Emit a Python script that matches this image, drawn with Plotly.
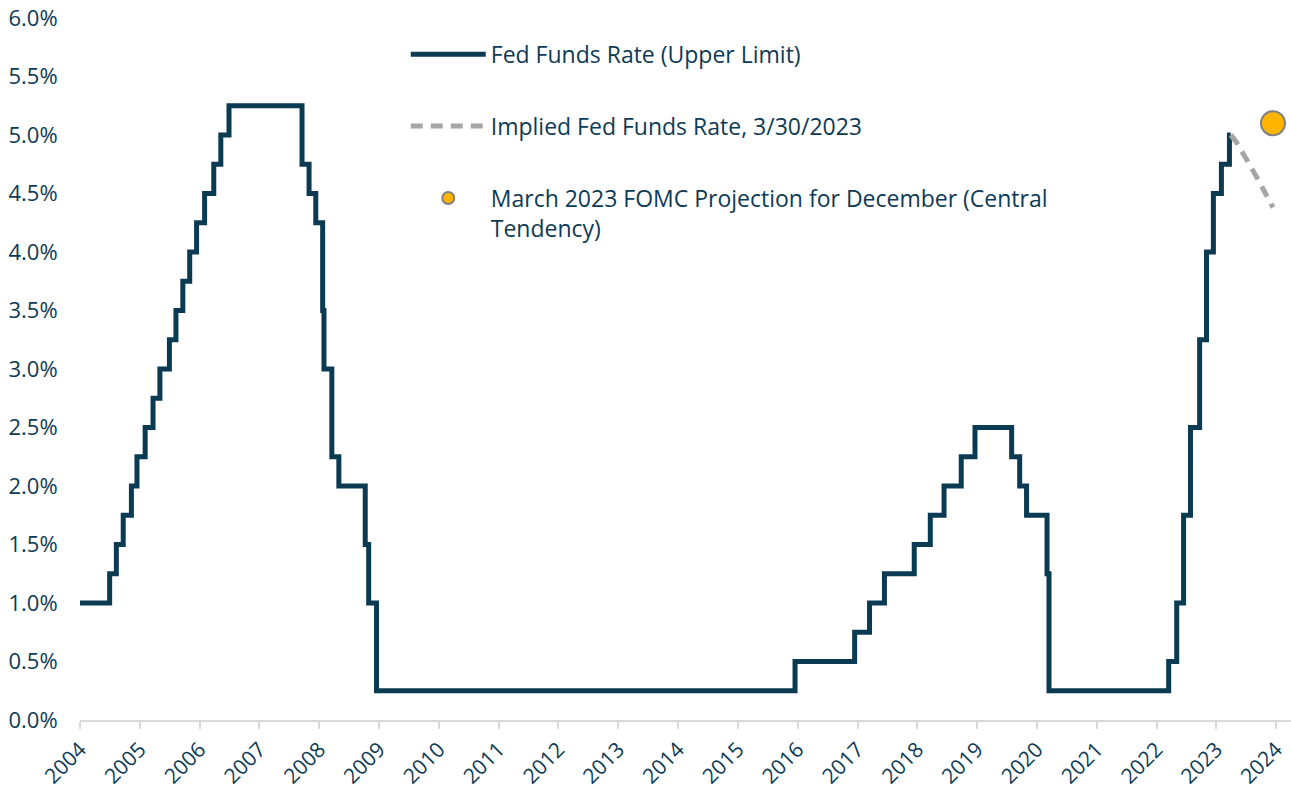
import plotly.graph_objects as go

# Fed funds target rate (upper limit), effective change dates
ffr_dates = [
    "2004-01-01", "2004-06-30", "2004-08-10", "2004-09-21", "2004-11-10", "2004-12-14",
    "2005-02-02", "2005-03-22", "2005-05-03", "2005-06-30", "2005-08-09", "2005-09-20",
    "2005-11-01", "2005-12-13", "2006-01-31", "2006-03-28", "2006-05-10", "2006-06-29",
    "2007-09-18", "2007-10-31", "2007-12-11", "2008-01-22", "2008-01-30", "2008-03-18",
    "2008-04-30", "2008-10-08", "2008-10-29", "2008-12-16", "2015-12-16", "2016-12-14",
    "2017-03-15", "2017-06-14", "2017-12-13", "2018-03-21", "2018-06-13", "2018-09-26",
    "2018-12-19", "2019-07-31", "2019-09-18", "2019-10-30", "2020-03-03", "2020-03-15",
    "2022-03-16", "2022-05-04", "2022-06-15", "2022-07-27", "2022-09-21", "2022-11-02",
    "2022-12-14", "2023-02-01", "2023-03-22", "2023-03-30",
]
ffr_values = [
    1.00, 1.25, 1.50, 1.75, 2.00, 2.25,
    2.50, 2.75, 3.00, 3.25, 3.50, 3.75,
    4.00, 4.25, 4.50, 4.75, 5.00, 5.25,
    4.75, 4.50, 4.25, 3.50, 3.00, 2.25,
    2.00, 1.50, 1.00, 0.25, 0.50, 0.75,
    1.00, 1.25, 1.50, 1.75, 2.00, 2.25,
    2.50, 2.25, 2.00, 1.75, 1.25, 0.25,
    0.50, 1.00, 1.75, 2.50, 3.25, 4.00,
    4.50, 4.75, 5.00, 5.00,
]

# Implied fed funds path as of 3/30/2023
implied_dates = ["2023-03-30", "2023-05-03", "2023-06-14", "2023-07-26", "2023-09-20", "2023-11-01", "2023-12-13"]
implied_values = [5.00, 4.94, 4.84, 4.74, 4.60, 4.49, 4.38]

# FOMC March 2023 projection for December 2023
fomc_dates = ["2023-12-13"]
fomc_values = [5.1]

y_ticks = [i * 0.5 for i in range(13)]
x_ticks = [f"{y}-01-01" for y in range(2004, 2025)]
x_labels = [str(y) for y in range(2004, 2025)]

NAVY = "#0b3a53"
TEXT = "#0d3b55"
FONT = "Open Sans"

fig = go.Figure()
fig.add_trace(go.Scatter(
    x=ffr_dates, y=ffr_values, mode="lines", line_shape="hv",
    line=dict(color=NAVY, width=5),
    name="Fed Funds Rate (Upper Limit)", legendgroup="a",
))
fig.add_trace(go.Scatter(
    x=implied_dates, y=implied_values, mode="lines", line_shape="spline",
    line=dict(color="#a6a6a6", width=5, dash="12px,8px"),
    name="Implied Fed Funds Rate, 3/30/2023", legendgroup="b",
))
fig.add_trace(go.Scatter(
    x=fomc_dates, y=fomc_values, mode="markers",
    marker=dict(color="#ffb500", size=24, line=dict(color="#808080", width=2)),
    name="March 2023 FOMC Projection for December (Central<br>Tendency)", legendgroup="c",
))

fig.update_layout(
    width=1291, height=789,
    margin=dict(l=80, r=0, t=18, b=69),
    paper_bgcolor="white", plot_bgcolor="white",
    font=dict(family=FONT, size=22, color=TEXT),
    showlegend=True,
    legend=dict(
        x=0.269, y=0.979, xanchor="left", yanchor="top",
        bgcolor="rgba(0,0,0,0)", tracegroupgap=39, itemwidth=75,
        valign="top", itemsizing="constant",
        font=dict(family=FONT, size=23, color=TEXT),
    ),
    xaxis=dict(
        type="date", range=["2004-01-01", "2024-04-01"],
        tickvals=x_ticks, ticktext=x_labels, tickangle=-45,
        tickfont=dict(family=FONT, size=21, color=TEXT),
        showgrid=False, showline=True, linecolor="#d9d9d9", linewidth=2,
        ticks="outside", ticklen=7, tickcolor="#d9d9d9", tickwidth=2,
        zeroline=False, automargin=False, ticklabeloverflow="allow",
    ),
    yaxis=dict(
        range=[0, 6.0], tickvals=y_ticks,
        ticktext=[f"{v:.1f}%" for v in y_ticks],
        showgrid=False, showline=False, zeroline=False,
        ticks="outside", ticklen=17, tickcolor="rgba(0,0,0,0)",
        automargin=False, ticklabeloverflow="allow",
    ),
)

fig.write_html(
    "out.html",
    config={"displayModeBar": False},
    post_script="document.body.style.margin='0px';document.body.style.overflow='hidden';",
)
